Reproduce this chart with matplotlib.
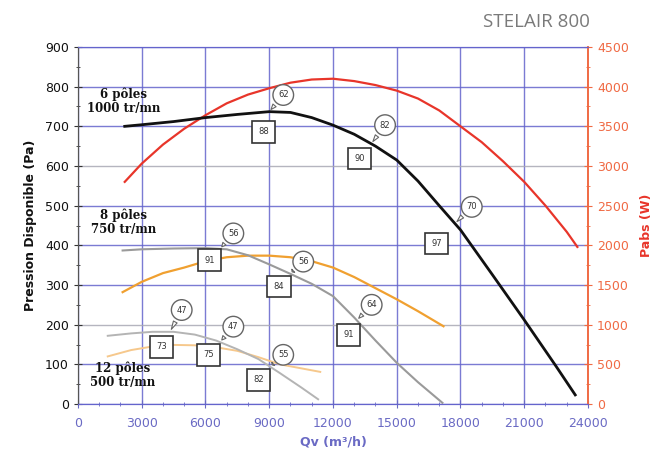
import numpy as np
import matplotlib
matplotlib.use("Agg")
import matplotlib.pyplot as plt
from matplotlib.ticker import MultipleLocator

# ---- airflow (m3/h) vs available pressure (Pa) ----
q6 = [2200, 3000, 4500, 6000, 7500, 9000, 10000, 11000, 12000, 13000, 14000,
      15000, 16000, 17000, 18000, 19500, 21000, 22500, 23400]
p6 = [700, 704, 712, 722, 730, 737, 735, 722, 703, 680, 650,
      615, 562, 500, 439, 326, 212, 95, 23]

q8 = [2100, 3000, 4500, 6000, 7000, 8000, 9000, 10000, 11000, 12000, 13000,
      14000, 15000, 16000, 17150]
p8 = [387, 390, 392, 393, 390, 375, 352, 328, 303, 272, 218,
      160, 104, 55, 3]

q12 = [1400, 2500, 3500, 4500, 5500, 6500, 7500, 8500, 9500, 10500, 11300]
p12 = [172, 178, 182, 182, 175, 160, 138, 113, 78, 42, 12]

# ---- absorbed power (W) ----
qw6 = [2200, 3000, 4000, 5000, 6000, 7000, 8000, 9000, 10000, 11000, 12000,
       13000, 14000, 15000, 16000, 17000, 18000, 19000, 20000, 21000, 22000,
       23000, 23500]
w6 = [2800, 3030, 3270, 3470, 3640, 3790, 3900, 3980, 4050, 4090, 4100,
      4070, 4020, 3950, 3850, 3700, 3500, 3300, 3060, 2800, 2500,
      2170, 1980]

qw8 = [2100, 3000, 4000, 5000, 6000, 7000, 8000, 9000, 10000, 11000, 12000,
       13000, 14000, 15000, 16000, 17200]
w8 = [1410, 1540, 1650, 1720, 1800, 1850, 1870, 1870, 1850, 1800, 1720,
      1600, 1460, 1320, 1170, 980]

qw12 = [1400, 2500, 3500, 4500, 5500, 6500, 7500, 8500, 9500, 10500, 11400]
w12 = [600, 680, 725, 745, 740, 715, 670, 590, 500, 450, 405]

# ---- efficiency boxes and sound-level bubbles ----
box_vals = ["88", "90", "97", "91", "84", "91", "73", "75", "82"]
box_q = [8720, 13270, 16880, 6210, 9460, 12720, 3940, 6130, 8490]
box_p = [686, 619, 405, 363, 296, 174, 144, 124, 61]

bub_vals = ["62", "82", "70", "56", "56", "64", "47", "47", "55"]
bub_q = [9660, 14450, 18530, 7310, 10600, 13820, 4880, 7310, 9660]
bub_p = [779, 703, 497, 430, 359, 250, 237, 195, 124]
bub_curve = [6, 6, 6, 8, 8, 8, 12, 12, 12]
bub_tail_q = [9000, 13800, 17740, 6680, 9980, 13120, 4330, 6680, 9040]

speed_labels = ["6 pôles\n1000 tr/mn", "8 pôles\n750 tr/mn", "12 pôles\n500 tr/mn"]
speed_q = [2150, 2150, 2100]
speed_p = [762, 457, 72]

grid_blue = "#6464cc"
grid_grey = "#a8a8b4"
red = "#e8352a"
axis_red = "#f06a44"
tick_blue = "#6a6ac4"

fig = plt.figure(figsize=(6.7, 4.62), dpi=100)
ax = fig.add_axes([0.1164, 0.1255, 0.7612, 0.7728])
ax2 = ax.twinx()

ax.set_xlim(0, 24000)
ax.set_ylim(0, 900)
ax2.set_ylim(0, 4500)

# grid
for x in range(0, 24001, 3000):
    ax.axvline(x, color=grid_blue, lw=1.0, alpha=0.85, zorder=0)
for y in range(0, 901, 100):
    c = grid_grey if y in (200, 600) else grid_blue
    ax.axhline(y, color=c, lw=1.0, alpha=0.85, zorder=0)

# power curves (right axis)
ax2.plot(qw6, w6, color=red, lw=1.6, zorder=2)
ax2.plot(qw8, w8, color="#f0a030", lw=1.6, zorder=2)
ax2.plot(qw12, w12, color="#f6c88c", lw=1.4, zorder=2)
ax2.set_zorder(ax.get_zorder() + 1)
ax2.patch.set_visible(False)

# pressure curves, drawn on the right axis scaled 900 Pa -> 4500 W
for q, p, c, lw in [(q6, p6, "#111111", 2.0), (q8, p8, "#9a9a9a", 1.5),
                    (q12, p12, "#b4b4b4", 1.4)]:
    ax2.plot(np.array(q), np.array(p) * 5, color=c, lw=lw, zorder=3)

curves = {6: (q6, p6), 8: (q8, p8), 12: (q12, p12)}

for v, q, p in zip(box_vals, box_q, box_p):
    ax2.text(q, p * 5, v, ha="center", va="center", fontsize=6, color="#333333",
             bbox=dict(boxstyle="square,pad=0.75", fc="white", ec="#333333", lw=1.2),
             zorder=5)

for v, q, p, c, tq in zip(bub_vals, bub_q, bub_p, bub_curve, bub_tail_q):
    cq, cp = curves[c]
    tp = np.interp(tq, cq, cp)
    ax2.annotate(v, xy=(tq, tp * 5), xytext=(q, p * 5), ha="center", va="center",
                 fontsize=6, color="#333333", zorder=5,
                 bbox=dict(boxstyle="circle,pad=0.6", fc="white", ec="#666666", lw=1.0),
                 arrowprops=dict(arrowstyle="wedge,tail_width=0.5,shrink_factor=0.5",
                                 fc="white", ec="#666666", lw=0.8))

for s, q, p in zip(speed_labels, speed_q, speed_p):
    ax2.text(q, p * 5, s, ha="center", va="center", fontsize=8.5, fontweight="bold",
             family="DejaVu Serif", color="#111111", linespacing=1.1, zorder=6)

# axes styling
ax.xaxis.set_major_locator(MultipleLocator(3000))
ax.xaxis.set_minor_locator(MultipleLocator(1000))
ax.yaxis.set_major_locator(MultipleLocator(100))
ax.yaxis.set_minor_locator(MultipleLocator(50))
ax2.yaxis.set_major_locator(MultipleLocator(500))
ax2.yaxis.set_minor_locator(MultipleLocator(250))

ax.tick_params(axis="x", which="major", direction="inout", length=6, colors=tick_blue,
               labelsize=9, pad=6)
ax.tick_params(axis="x", which="minor", direction="inout", length=3, color=tick_blue)
ax.tick_params(axis="y", which="major", direction="inout", length=6, color="#333333",
               labelcolor="#111111", labelsize=9)
ax.tick_params(axis="y", which="minor", direction="inout", length=3, color="#333333")
ax2.tick_params(axis="y", which="major", direction="inout", length=6, color=axis_red,
                labelcolor=axis_red, labelsize=9)
ax2.tick_params(axis="y", which="minor", direction="inout", length=3, color=axis_red)

for a in (ax, ax2):
    a.spines["left"].set_color("#555555")
    a.spines["bottom"].set_color(grid_blue)
    a.spines["top"].set_color(grid_blue)
    a.spines["right"].set_color(axis_red)
    a.spines["right"].set_linewidth(1.2)

ax.set_xlabel("Qv (m³/h)", color=tick_blue, fontsize=9, fontweight="bold", labelpad=4)
ax.set_ylabel("Pression Disponible (Pa)", color="#111111", fontsize=9,
              fontweight="bold", labelpad=6)
ax2.set_ylabel("Pabs (W)", color=red, fontsize=9, fontweight="bold", labelpad=8)

fig.text(0.881, 0.952, "STELAIR 800", fontsize=13.5, color="#7a7a7a", ha="right",
         va="center", family="Open Sans")

fig.savefig("out.png", dpi=100)
